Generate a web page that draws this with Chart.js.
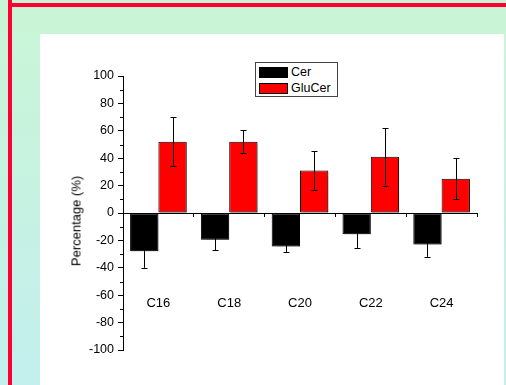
<!DOCTYPE html>
<html>
<head>
<meta charset="utf-8">
<script src="https://cdn.jsdelivr.net/npm/chart.js@4"></script>
<style>
  html, body { margin:0; padding:0; }
  body { width:506px; height:385px; overflow:hidden; position:relative;
         background: linear-gradient(to bottom, #C9F5D5 0%, #C6F2E2 50%, #C3EFEE 100%);
         font-family: "Liberation Sans", Arial, sans-serif; }
  #vline { position:absolute; left:8px; top:0; width:4px; height:385px; background:#FF0033; }
  #hline { position:absolute; left:8px; top:3px; width:498px; height:4px; background:#FF0033; }
  #panel { position:absolute; left:40px; top:34px; width:464px; height:351px; background:#fff; }
  #panel canvas { position:absolute; left:0; top:0; }
  #legend { position:absolute; left:255px; top:62px; width:81px; height:33px; border:1px solid #444; background:#fff; }
  .row { position:absolute; left:3px; height:14px; font-size:12.5px; color:#000; line-height:14px; }
  .sw { position:absolute; left:0; top:2px; width:27px; height:9px; border:1px solid #000; }
  .lbl { position:absolute; left:32px; top:0; white-space:nowrap; }
  #ytitle { position:absolute; left:76px; top:221px; transform: translate(-50%,-50%) rotate(-90deg);
            font-size:13px; white-space:nowrap; color:#000; }
</style>
</head>
<body>
<div id="vline"></div>
<div id="hline"></div>
<div id="panel"><canvas id="c" width="464" height="351"></canvas></div>
<div id="legend"></div>
<div id="ytitle">Percentage (%)</div>
<script>
const categories = ["C16", "C18", "C20", "C22", "C24"];
const seriesNames = ["Cer", "GluCer"];
const cerValues = [-28, -19.5, -24.5, -15.5, -23];
const cerErrors = [12, 7.5, 4, 10, 9];
const gluCerValues = [52, 52, 31, 41, 25];
const gluCerErrors = [18, 8.5, 14, 21, 15];
const yTicks = [-100, -80, -60, -40, -20, 0, 20, 40, 60, 80, 100];
const yMinorTicks = [-90, -70, -50, -30, -10, 10, 30, 50, 70, 90];

const colors = ["#000000", "#FF0000"];
const errors = [cerErrors, gluCerErrors];
const FONT = '"Liberation Sans", Arial, sans-serif';

const legend = document.getElementById('legend');
seriesNames.forEach((n, i) => {
  const r = document.createElement('div');
  r.className = 'row';
  r.style.top = (2 + i * 16) + 'px';
  r.innerHTML = '<div class="sw" style="background:' + colors[i] + '"></div><div class="lbl">' + n + '</div>';
  legend.appendChild(r);
});

const shadowPlugin = {
  id: 'shadow',
  beforeDatasetsDraw(chart) {
    const ctx = chart.ctx;
    ctx.save();
    ctx.shadowColor = 'rgba(0,0,0,0.3)';
    ctx.shadowOffsetX = 1.5;
    ctx.shadowOffsetY = 1.5;
    ctx.shadowBlur = 1;
  },
  afterDatasetsDraw(chart) {
    chart.ctx.restore();
  }
};

const errorPlugin = {
  id: 'errbars',
  afterDatasetsDraw(chart) {
    const ctx = chart.ctx;
    const ys = chart.scales.y;
    ctx.save();
    ctx.strokeStyle = '#000';
    ctx.lineWidth = 1;
    chart.data.datasets.forEach((ds, di) => {
      const meta = chart.getDatasetMeta(di);
      meta.data.forEach((bar, i) => {
        const v = ds.data[i], e = errors[di][i];
        const x = Math.round(bar.x) + 0.5;
        const yt = ys.getPixelForValue(v + e);
        const yb = ys.getPixelForValue(v - e);
        ctx.beginPath();
        ctx.moveTo(x, yt); ctx.lineTo(x, yb);
        ctx.moveTo(x - 3, Math.round(yt) + 0.5); ctx.lineTo(x + 3, Math.round(yt) + 0.5);
        ctx.moveTo(x - 3, Math.round(yb) + 0.5); ctx.lineTo(x + 3, Math.round(yb) + 0.5);
        ctx.stroke();
      });
    });
    const left = chart.chartArea.left;
    ctx.beginPath();
    yMinorTicks.forEach(v => {
      const y = Math.round(ys.getPixelForValue(v)) + 0.5;
      ctx.moveTo(left - 3, y); ctx.lineTo(left, y);
    });
    ctx.stroke();
    ctx.restore();
  }
};

new Chart(document.getElementById('c'), {
  type: 'bar',
  data: {
    labels: categories,
    datasets: [
      { label: seriesNames[0], data: cerValues, backgroundColor: colors[0], borderColor: '#000', borderWidth: 1, borderSkipped: false },
      { label: seriesNames[1], data: gluCerValues, backgroundColor: colors[1], borderColor: '#000', borderWidth: 1, borderSkipped: false }
    ]
  },
  options: {
    responsive: false,
    animation: false,
    devicePixelRatio: 1,
    layout: { padding: { left: 0, top: 42, right: 27, bottom: 35 } },
    datasets: { bar: { categoryPercentage: 0.8, barPercentage: 1.0 } },
    plugins: { legend: { display: false }, tooltip: { enabled: false } },
    scales: {
      x: {
        position: { y: 0 },
        afterFit(scale) { scale.paddingLeft = 0; scale.paddingRight = 0; },
        grid: { drawOnChartArea: false, drawTicks: true, tickLength: 3, color: '#000', offset: true },
        border: { display: true, color: '#000', width: 1, z: 1 },
        ticks: { padding: 80, maxRotation: 0, color: '#000', font: { family: FONT, size: 13 } }
      },
      y: {
        min: -100, max: 100,
        afterFit(scale) { scale.width = 83; },
        afterBuildTicks(scale) { scale.ticks = yTicks.map(v => ({ value: v })); },
        grid: { drawOnChartArea: false, drawTicks: true, tickLength: 5, color: '#000' },
        border: { display: true, color: '#000', width: 1 },
        ticks: { padding: 4, color: '#000', callback: v => String(v),
                 font: { family: FONT, size: 12.5 } }
      }
    }
  },
  plugins: [shadowPlugin, errorPlugin]
});
</script>
</body>
</html>
